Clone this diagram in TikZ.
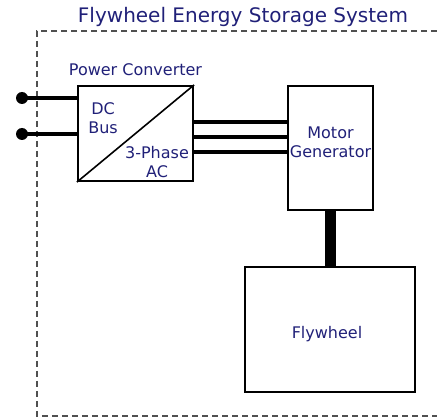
\documentclass[tikz,border=0pt]{standalone}
\usepackage{fontspec}
\setmainfont{DejaVu Sans}
\begin{document}
\begin{tikzpicture}[x=1pt,y=-1pt,
  txt/.style={text=navy,inner sep=0pt,font=\fontsize{16}{19}\selectfont,align=center},
  blk/.style={draw=black,line width=2.2pt,inner sep=0pt},
  wire/.style={line width=4.5pt},
  dot/.style={circle,fill=black,minimum size=12pt,inner sep=0pt}]
\definecolor{navy}{RGB}{32,32,120}
\definecolor{dashgray}{RGB}{80,80,80}
\useasboundingbox (0,0) rectangle (437,417);
% dashed border
\draw[dashgray,line width=2pt,dash pattern=on 6pt off 4pt] (437,31) -- (37,31) -- (37,416) -- (437,416);
\node[text=navy,inner sep=0pt,font=\fontsize{20}{24}\selectfont] (title) at (243,17) {Flywheel Energy Storage System};
% converter
\node[blk,minimum width=115pt,minimum height=95pt] (conv) at (135.5,133.5) {};
\draw[line width=1.6pt] (conv.south west) -- (conv.north east);
\node[txt] (pclabel) at (135.5,70) {Power Converter};
\node[txt] (dc) at (103,118) {DC\\Bus};
\node[txt] (ac) at (157,162) {3-Phase\\AC};
% input dots
\node[dot] (d1) at (22,98) {};
\node[dot] (d2) at (22,134) {};
\draw[wire] (d1.center) -- (d1.center -| conv.west);
\draw[wire] (d2.center) -- (d2.center -| conv.west);
% motor generator
\node[blk,minimum width=85pt,minimum height=124pt] (mg) at (330.5,148) {};
\node[txt] (mgt) at (330.5,142) {Motor\\Generator};
\foreach \yy in {122,137,152}{
  \coordinate (a) at (193,\yy);
  \draw[wire] (a) -- (a -| mg.west);
}
% flywheel
\node[blk,minimum width=170pt,minimum height=125pt] (fw) at (330,329.5) {};
\node[txt] (fwt) at (327,334) {Flywheel};
\draw[line width=11pt] (mg.south) -- (mg.south |- fw.north);
\end{tikzpicture}
\end{document}
